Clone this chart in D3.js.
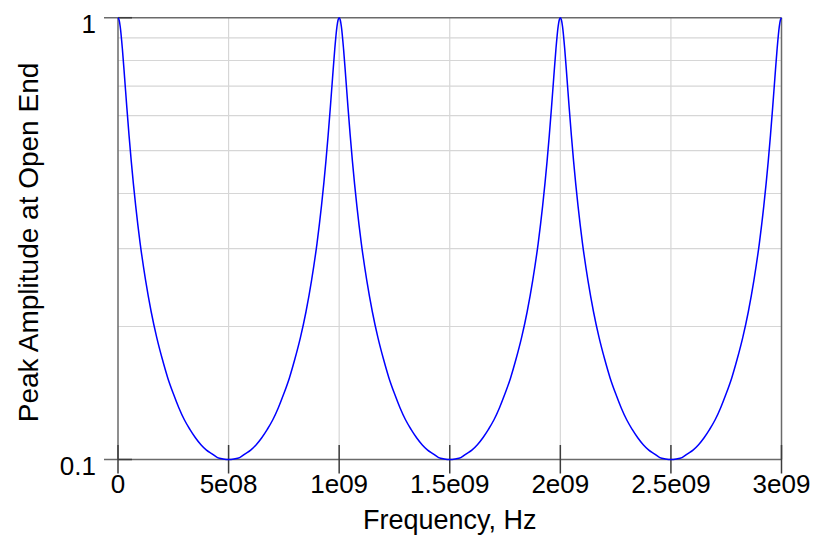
<!DOCTYPE html>
<html><head><meta charset="utf-8">
<script src="https://cdn.jsdelivr.net/npm/d3@7"></script>
<style>html,body{margin:0;padding:0;background:#fff;}svg{display:block;font-family:"Liberation Sans",Arial,sans-serif;}</style>
</head><body>
<svg id="c" width="823" height="542"></svg>
<script>
// Frequency samples in MHz
const freqMHz = [
  0,5,10,20,30,40,50,60,80,100,125,150,175,200,225,250,275,300,325,350,375,400,425,450,475,
  500,525,550,575,600,625,650,675,700,725,750,775,800,825,850,875,900,920,940,950,960,970,980,990,995,
  1000,1005,1010,1020,1030,1040,1050,1060,1080,1100,1125,1150,1175,1200,1225,1250,1275,1300,1325,1350,1375,1400,1425,1450,1475,
  1500,1525,1550,1575,1600,1625,1650,1675,1700,1725,1750,1775,1800,1825,1850,1875,1900,1920,1940,1950,1960,1970,1980,1990,1995,
  2000,2005,2010,2020,2030,2040,2050,2060,2080,2100,2125,2150,2175,2200,2225,2250,2275,2300,2325,2350,2375,2400,2425,2450,2475,
  2500,2525,2550,2575,2600,2625,2650,2675,2700,2725,2750,2775,2800,2825,2850,2875,2900,2920,2940,2950,2960,2970,2980,2990,2995,
  3000
];
// Peak amplitude at open end
const amplitude = [
  1,.988,.955,.848,.730,.626,.541,.473,.375,.309,.254,.216,.189,.169,.153,.141,.131,.123,.117,.112,.108,.105,.103,.101,.1003,
  .1,.1003,.101,.103,.105,.108,.112,.117,.123,.131,.141,.153,.169,.189,.216,.254,.309,.375,.473,.541,.626,.730,.848,.955,.988,
  1,.988,.955,.848,.730,.626,.541,.473,.375,.309,.254,.216,.189,.169,.153,.141,.131,.123,.117,.112,.108,.105,.103,.101,.1003,
  .1,.1003,.101,.103,.105,.108,.112,.117,.123,.131,.141,.153,.169,.189,.216,.254,.309,.375,.473,.541,.626,.730,.848,.955,.988,
  1,.988,.955,.848,.730,.626,.541,.473,.375,.309,.254,.216,.189,.169,.153,.141,.131,.123,.117,.112,.108,.105,.103,.101,.1003,
  .1,.1003,.101,.103,.105,.108,.112,.117,.123,.131,.141,.153,.169,.189,.216,.254,.309,.375,.473,.541,.626,.730,.848,.955,.988,
  1
];
const xTickValues = [0, 5e8, 1e9, 1.5e9, 2e9, 2.5e9, 3e9];
const xTickLabels = ["0", "5e08", "1e09", "1.5e09", "2e09", "2.5e09", "3e09"];
const yTickValues = [0.1, 1];
const yTickLabels = ["0.1", "1"];
const yGridValues = [0.2, 0.3, 0.4, 0.5, 0.6, 0.7, 0.8, 0.9];
const xTitle = "Frequency, Hz";
const yTitle = "Peak Amplitude at Open End";

const L = 118, R = 781.5, T = 17.7, B = 459.5;
const x = d3.scaleLinear().domain([0, 3e9]).range([L, R]);
const y = d3.scaleLog().domain([0.1, 1]).range([B, T]);

const svg = d3.select("#c");
const axisCol = "#6a6a6a", gridCol = "#d6d6d6", tickCol = "#3c3c3c";

// grid
svg.append("g").selectAll("line").data(yGridValues).join("line")
  .attr("x1", L).attr("x2", R).attr("y1", d => y(d)).attr("y2", d => y(d))
  .attr("stroke", gridCol).attr("stroke-width", 1.2);
svg.append("g").selectAll("line").data(xTickValues.slice(1, -1)).join("line")
  .attr("x1", d => x(d)).attr("x2", d => x(d)).attr("y1", T).attr("y2", B)
  .attr("stroke", gridCol).attr("stroke-width", 1.2);

// frame
svg.append("line").attr("x1", 104).attr("x2", R).attr("y1", T).attr("y2", T).attr("stroke", axisCol).attr("stroke-width", 1.5);
svg.append("line").attr("x1", 104).attr("x2", R).attr("y1", B).attr("y2", B).attr("stroke", axisCol).attr("stroke-width", 1.5);
svg.append("line").attr("x1", L).attr("x2", L).attr("y1", T).attr("y2", B).attr("stroke", axisCol).attr("stroke-width", 1.5);
svg.append("line").attr("x1", R).attr("x2", R).attr("y1", T).attr("y2", B).attr("stroke", axisCol).attr("stroke-width", 1.5);

// x ticks
const xg = svg.append("g");
xg.selectAll("line").data(xTickValues).join("line")
  .attr("x1", d => x(d)).attr("x2", d => x(d)).attr("y1", B - 14.5).attr("y2", B + 14)
  .attr("stroke", tickCol).attr("stroke-width", 1.5);
xg.selectAll("text").data(xTickValues).join("text")
  .attr("x", d => x(d)).attr("y", 492.5).attr("text-anchor", "middle")
  .attr("font-size", 26).attr("fill", "#000")
  .text((d, i) => xTickLabels[i]);

// y ticks
const yg = svg.append("g");
yg.selectAll("line").data(yTickValues).join("line")
  .attr("x1", L).attr("x2", L + 14).attr("y1", d => y(d)).attr("y2", d => y(d))
  .attr("stroke", tickCol).attr("stroke-width", 1.5);
yg.selectAll("text").data(yTickValues).join("text")
  .attr("x", 96).attr("y", d => y(d) + 15.5).attr("text-anchor", "end")
  .attr("font-size", 26).attr("fill", "#000")
  .text((d, i) => yTickLabels[i]);

// titles
svg.append("text").attr("x", (L + R) / 2).attr("y", 529).attr("text-anchor", "middle")
  .attr("font-size", 27).attr("fill", "#000").text(xTitle);
svg.append("text").attr("transform", "translate(38,242.5) rotate(-90)").attr("text-anchor", "middle")
  .attr("font-size", 28).attr("fill", "#000").text(yTitle);

// curve
const pts = freqMHz.map((f, i) => [f * 1e6, amplitude[i]]);
svg.append("path").datum(pts)
  .attr("fill", "none").attr("stroke", "#0000ff").attr("stroke-width", 1.5)
  .attr("d", d3.line().x(d => x(d[0])).y(d => y(d[1])).curve(d3.curveMonotoneX));
</script>
</body></html>
